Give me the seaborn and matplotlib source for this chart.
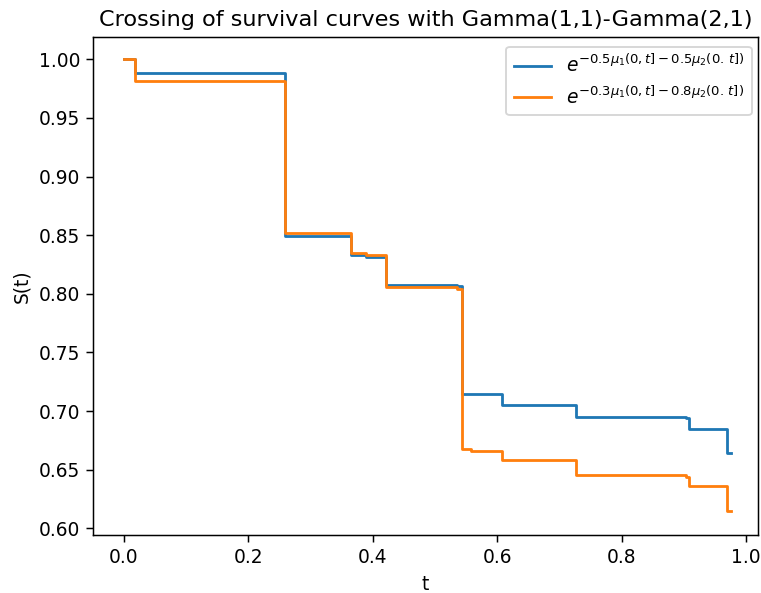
import matplotlib
matplotlib.use("Agg")
import matplotlib.pyplot as plt
import seaborn as sns
import pandas as pd

# Data
times = [0.0, 0.0177, 0.259, 0.3654, 0.389, 0.4217, 0.535, 0.5435, 0.5585,
         0.6084, 0.7259, 0.9033, 0.9089, 0.970, 0.9765]
s_blue = [1.0, 0.9880, 0.8495, 0.8331, 0.8316, 0.8078, 0.8064, 0.7143, 0.7143,
          0.7052, 0.6952, 0.6938, 0.6844, 0.6640, 0.6640]
s_orange = [1.0, 0.9812, 0.8521, 0.8345, 0.8333, 0.8055, 0.8041, 0.6674, 0.6659,
            0.6580, 0.6455, 0.6441, 0.6361, 0.6148, 0.6148]
label_blue = r'$e^{-0.5\mu_1(0,t]-0.5\mu_2(0.\,t])}$'
label_orange = r'$e^{-0.3\mu_1(0,t]-0.8\mu_2(0.\,t])}$'
title = 'Crossing of survival curves with Gamma(1,1)-Gamma(2,1)'

DPI = 134.5
fig = plt.figure(figsize=(761 / DPI, 593 / DPI), dpi=DPI)
ax = fig.add_axes([93.3 / 761, 1 - 535 / 593, (758 - 93.3) / 761, (535 - 37.3) / 593])

df_b = pd.DataFrame({'t': times, 'S': s_blue})
df_o = pd.DataFrame({'t': times, 'S': s_orange})
colors = sns.color_palette('tab10')
sns.lineplot(data=df_b, x='t', y='S', ax=ax, color=colors[0], label=label_blue,
             drawstyle='steps-post', estimator=None, linewidth=1.5)
sns.lineplot(data=df_o, x='t', y='S', ax=ax, color=colors[1], label=label_orange,
             drawstyle='steps-post', estimator=None, linewidth=1.5)

ax.set_xlim(-0.0494, 1.0193)
ax.set_ylim(0.5943, 1.0188)
ax.set_xlabel('t')
ax.set_ylabel('S(t)')
ax.set_title(title)
ax.legend(loc='upper right', bbox_to_anchor=(1.005, 1.0))

fig.savefig('out.png', dpi=DPI)
